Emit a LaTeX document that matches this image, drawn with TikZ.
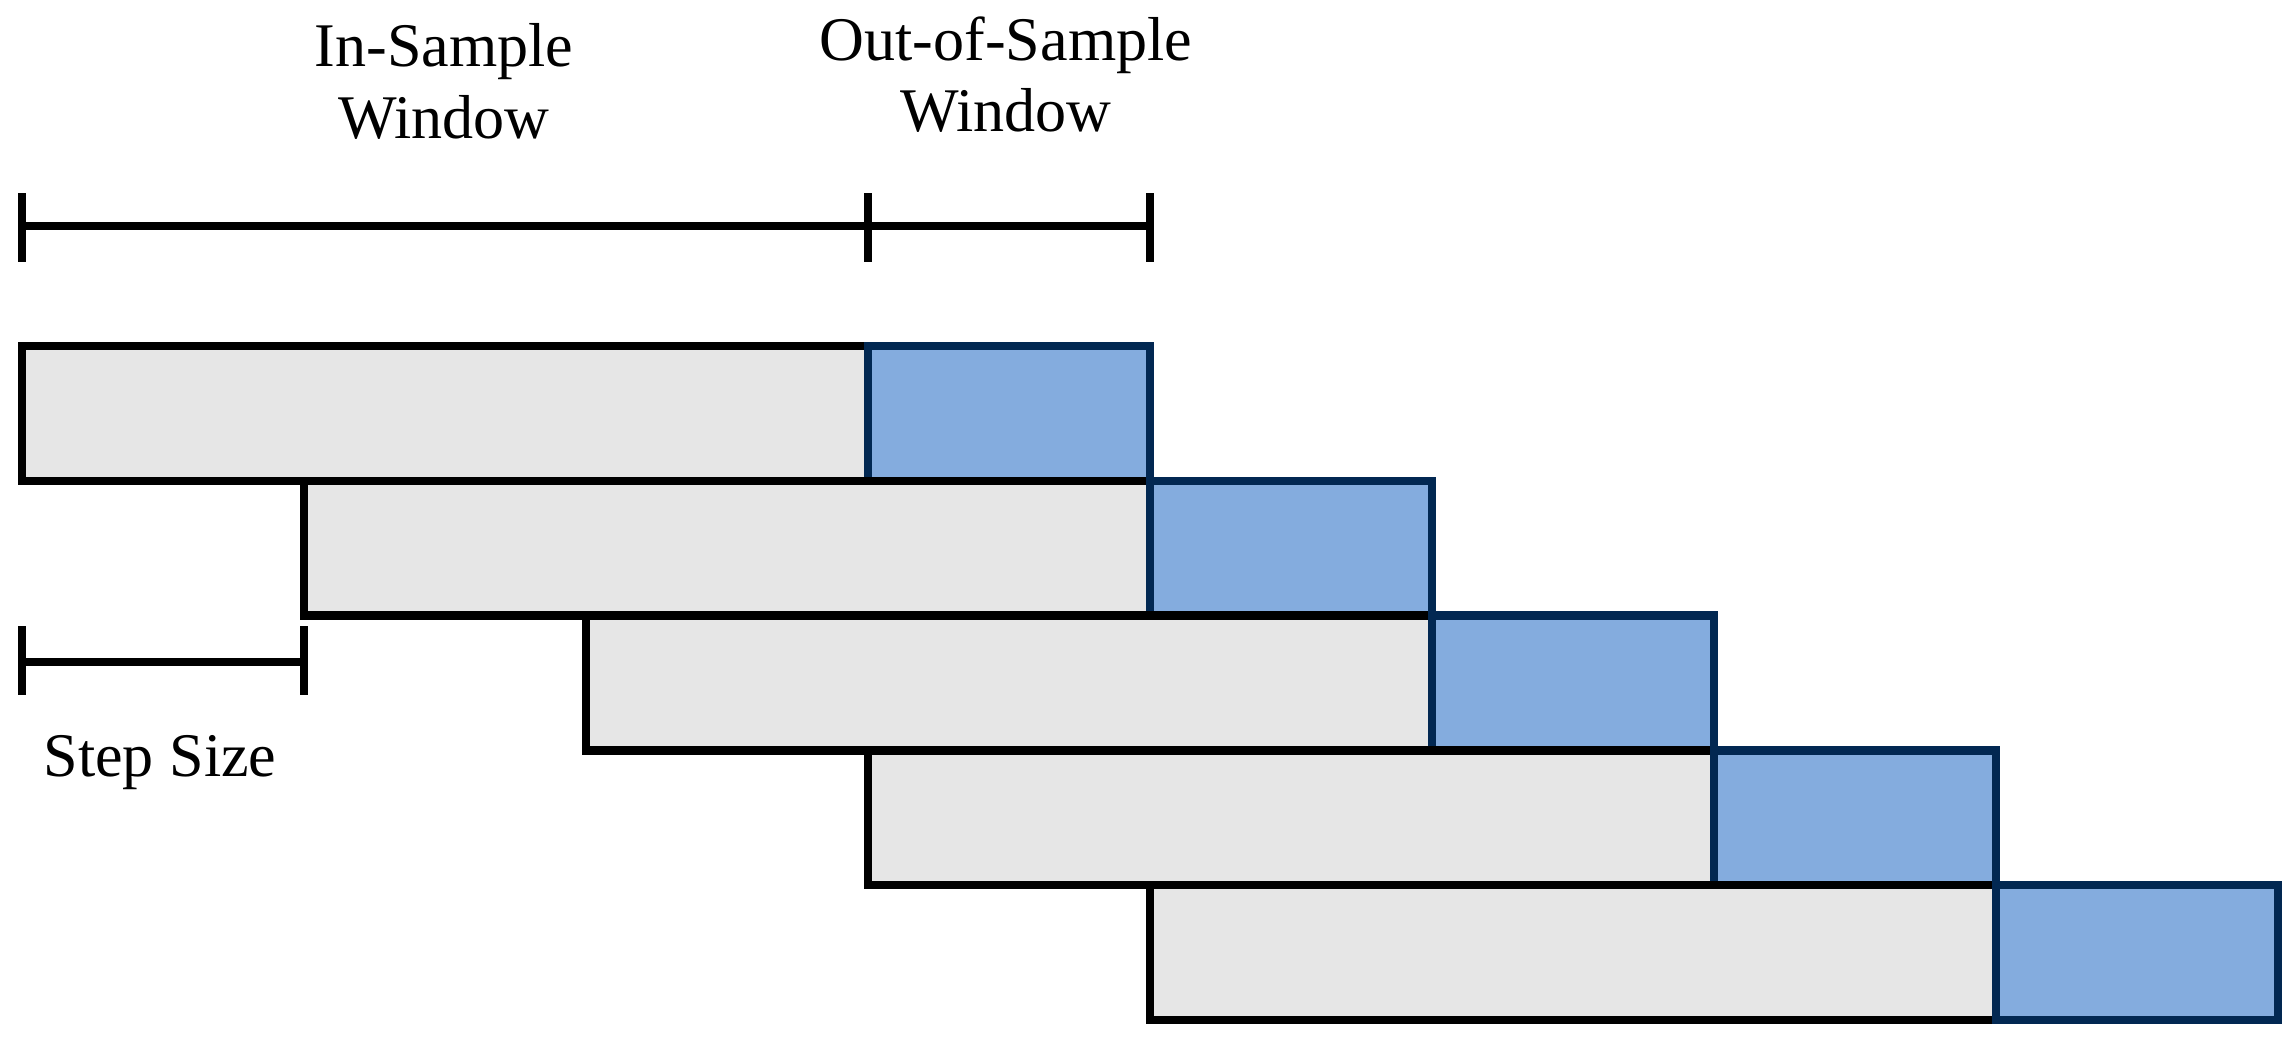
\documentclass[tikz,border=0pt]{standalone}
\usepackage{fontspec}
\setmainfont{Liberation Serif}
\definecolor{greyfill}{RGB}{230,230,230}
\definecolor{bluefill}{RGB}{132,172,222}
\definecolor{bluedraw}{RGB}{2,40,82}
\begin{document}
\begin{tikzpicture}[x=0.01cm,y=-0.01cm,line width=2.36pt,
  insample/.style={draw=black,fill=greyfill},
  outsample/.style={draw=bluedraw,fill=bluefill},
  bar/.style={draw=black},
  lbl/.style={inner sep=0pt,anchor=base,font=\fontsize{17.65pt}{20.4pt}\selectfont}]
\useasboundingbox (0,0) rectangle (2296,1041);
\foreach \r in {0,...,4}{
  \pgfmathsetmacro{\xa}{21.7+282*\r}
  \pgfmathsetmacro{\xb}{\xa+846}
  \pgfmathsetmacro{\xc}{\xa+1128}
  \pgfmathsetmacro{\ya}{346+134.8*\r}
  \pgfmathsetmacro{\yb}{\ya+134.8}
  \draw[insample] (\xa,\ya) rectangle (\xb,\yb);
  \draw[outsample] (\xb,\ya) rectangle (\xc,\yb);
}
% window bracket
\coordinate (isL) at (21.7,226);
\coordinate (isR) at (867.7,226);
\coordinate (osR) at (1149.7,226);
\draw[bar] (isL) -- (osR);
\foreach \c in {isL,isR,osR} \draw[bar] (\c) ++(0,-33) -- ++(0,69);
% step bracket
\coordinate (stL) at (21.7,662);
\coordinate (stR) at (303.7,662);
\draw[bar] (stL) -- (stR);
\foreach \c in {stL,stR} \draw[bar] (\c) ++(0,-36) -- ++(0,69);
% labels
\node[lbl] (is1) at (444,66) {In-Sample};
\node[lbl] (is2) at (444,138) {Window};
\node[lbl] (os1) at (1006,60) {Out-of-Sample};
\node[lbl] (os2) at (1006,131) {Window};
\node[lbl] (ss) at (160,776) {Step Size};
\end{tikzpicture}
\end{document}
